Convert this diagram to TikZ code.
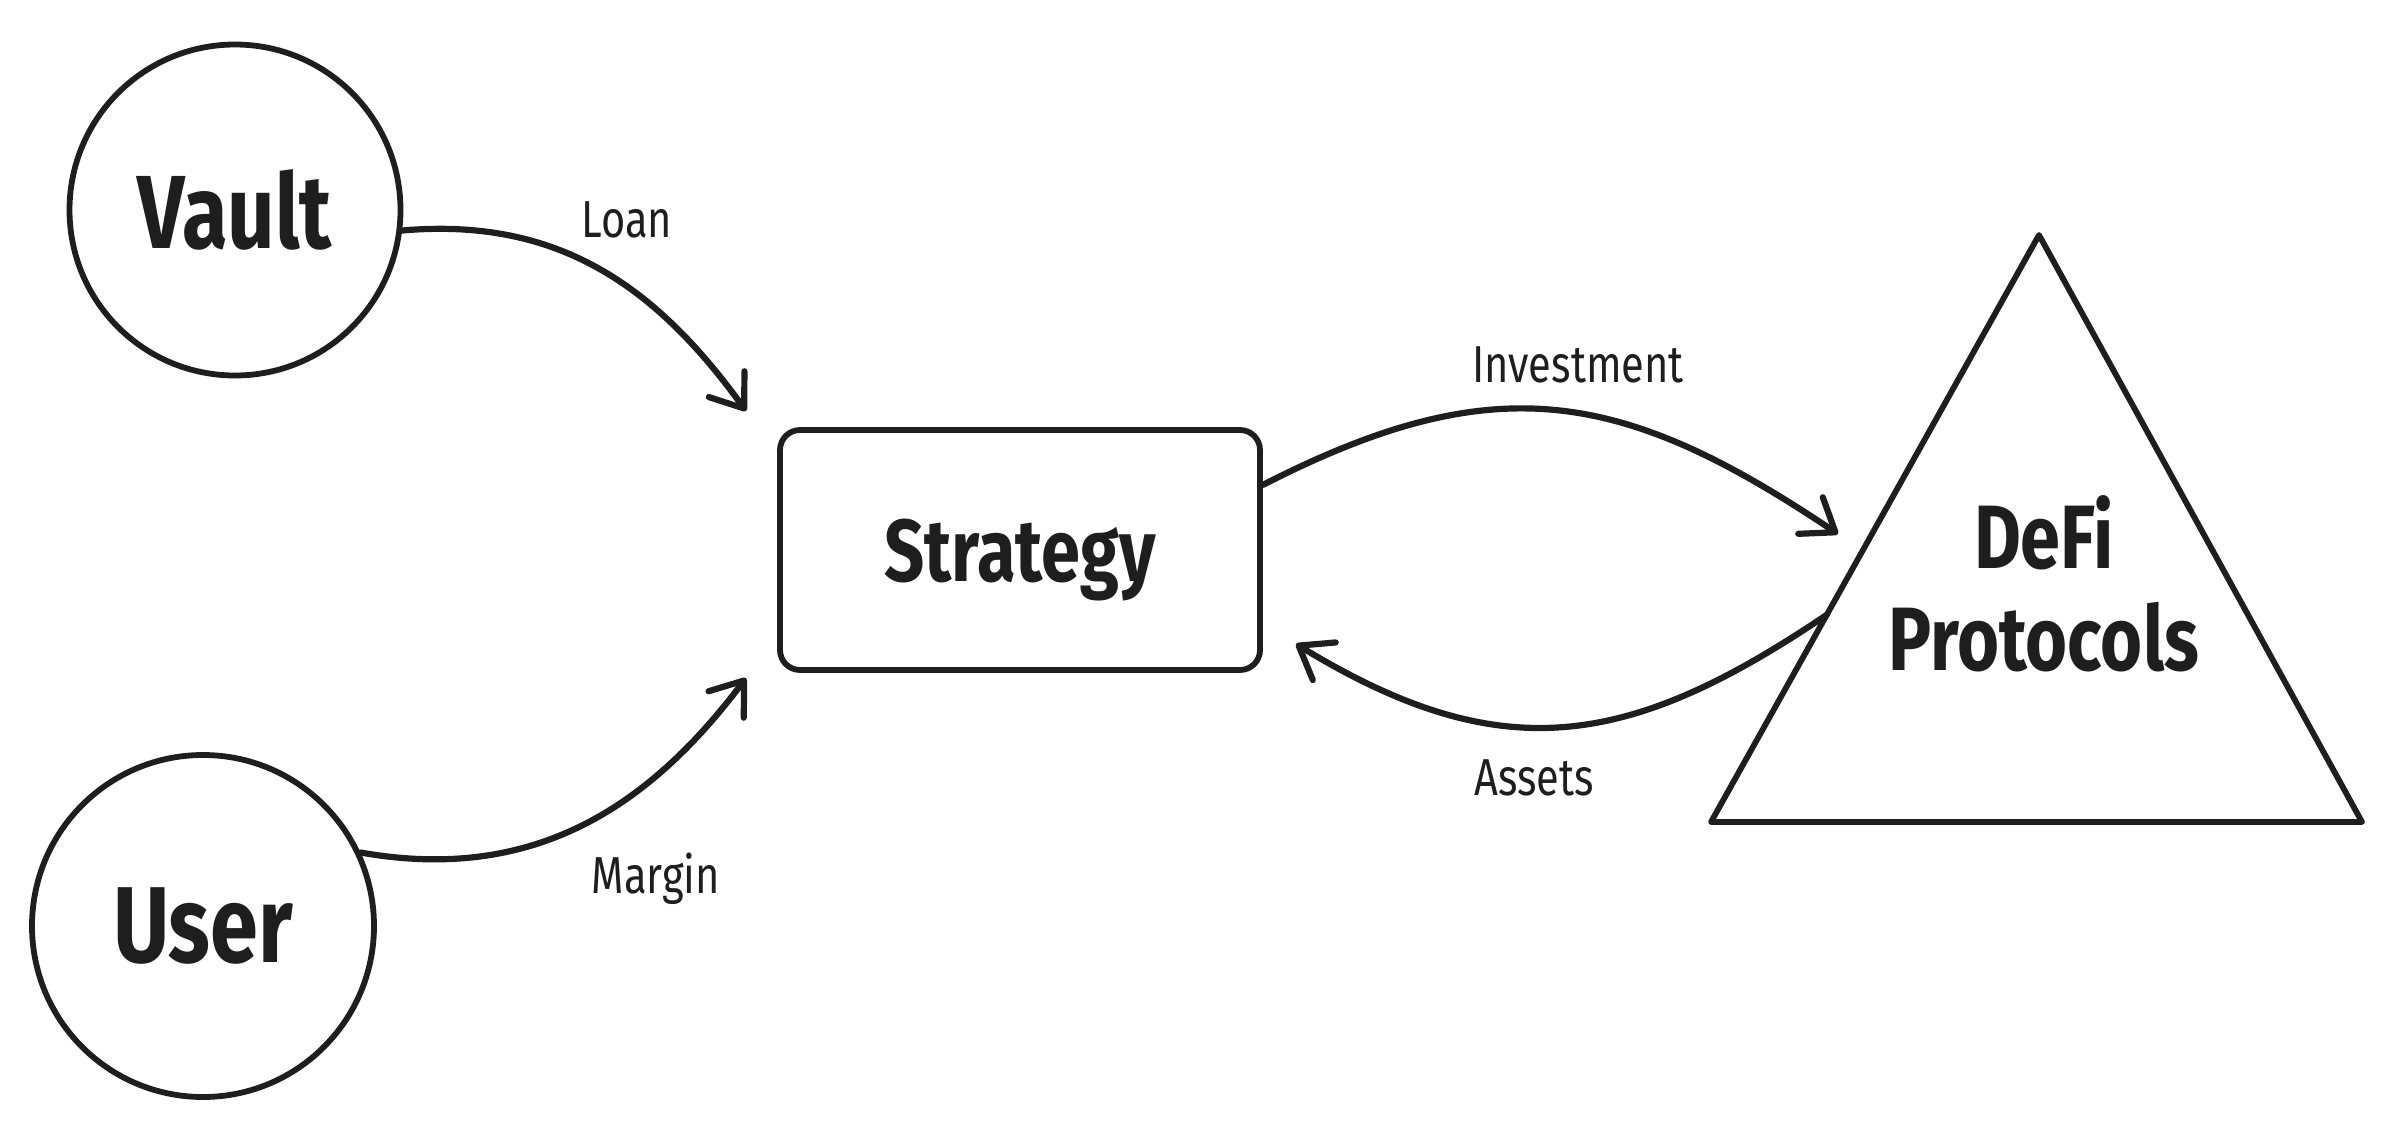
\documentclass[tikz,border=0pt]{standalone}
\usepackage{fontspec}
\setmainfont{Fira Sans}[FakeStretch=0.8]
\usetikzlibrary{arrows.meta,calc}
\definecolor{ink}{HTML}{1E1E1E}
\begin{document}
\begin{tikzpicture}[x=0.5pt,y=-0.5pt,
  every path/.style={line cap=round,line join=round},
  shapeline/.style={draw=ink,line width=2.9pt,text=ink,font=\bfseries},
  conn/.style={draw=ink,line width=3.1pt,-{Straight Barb[length=15pt,width=22pt,round]}},
  edgelbl/.style={text=ink,anchor=base,inner sep=0pt,font=\fontsize{26}{30}\selectfont}]
\useasboundingbox (0,0) rectangle (2399,1135);
% nodes
\node[shapeline,circle,minimum size=165.5pt,inner sep=0pt,font=\bfseries\fontsize{52}{60}\selectfont] (vault) at (235,210) {Vault};
\node[shapeline,circle,minimum size=171pt,inner sep=0pt,font=\bfseries\fontsize{54}{62}\selectfont] (user) at (203,926) {User};
\node[shapeline,rectangle,rounded corners=10pt,minimum width=240pt,minimum height=120pt,inner sep=0pt,text depth=0pt,font=\bfseries\fontsize{44}{50}\selectfont] (strat) at (1020,550) {Strategy};
% triangle
\coordinate (tA) at (2039,235);
\coordinate (tL) at (1711,822);
\coordinate (tR) at (2362,822);
\draw[draw=ink,line width=2.9pt] (tA) -- (tL) -- (tR) -- cycle;
\node[text=ink,align=center,inner sep=0pt,font=\bfseries\fontsize{45}{51}\selectfont] (defi) at (2044,584) {DeFi\\Protocols};
% connector end points
\coordinate (loanTip) at (746,411);
\coordinate (marginTip) at (746,678);
\coordinate (investTip) at (1838,534);
\coordinate (assetsTip) at (1296,644);
\coordinate (assetsStart) at ($(tA)!0.647!(tL)$);
% connectors
\draw[conn] (vault.353) .. controls (557,217) and (655,285) .. (loanTip);
\draw[conn] (user.25) .. controls (527,882) and (644,814) .. (marginTip);
\draw[conn] (strat.15) .. controls (1495,366) and (1622,389) .. (investTip);
\draw[conn] (assetsStart) .. controls (1628,749) and (1501,769) .. (assetsTip);
% labels
\node[edgelbl] (lloan) at (627,237) {Loan};
\node[edgelbl] (linv) at (1578,382) {Investment};
\node[edgelbl] (lmargin) at (656,893) {Margin};
\node[edgelbl] (lassets) at (1534,795) {Assets};
\end{tikzpicture}
\end{document}
